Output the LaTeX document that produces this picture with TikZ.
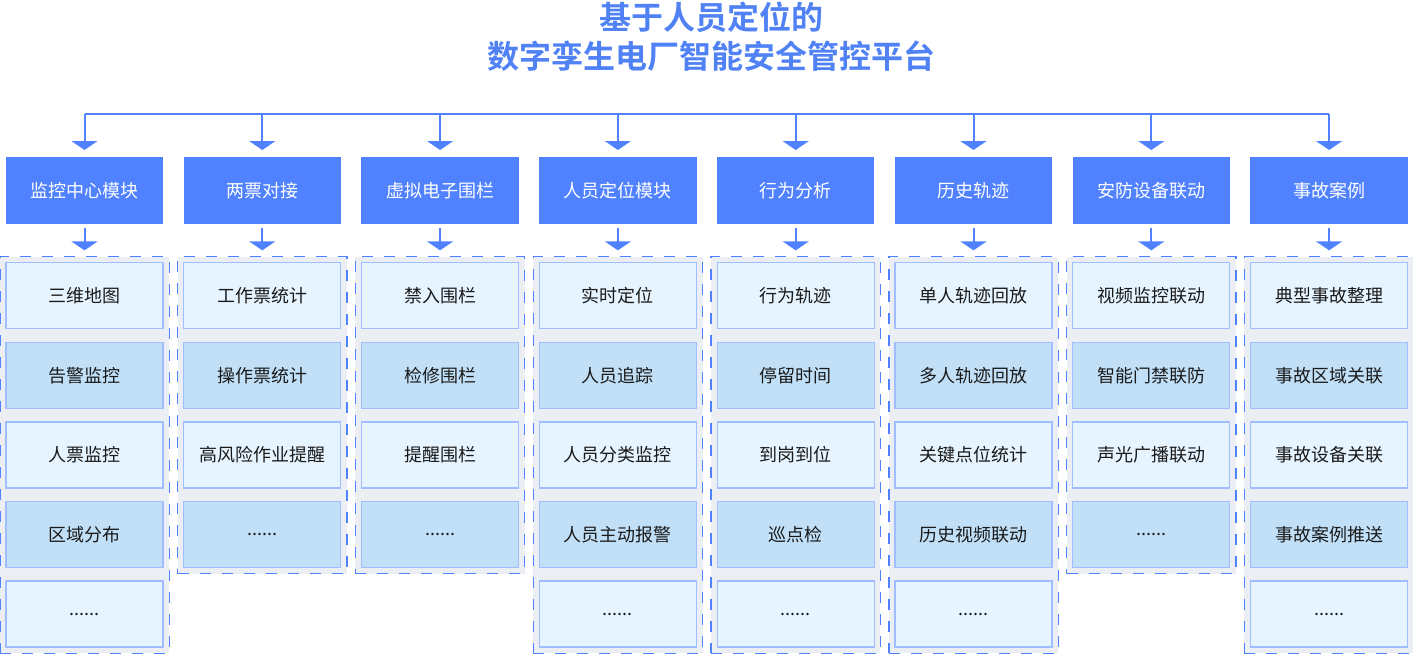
\documentclass[tikz,border=0pt]{standalone}
\usepackage{fontspec}
\setmainfont{Noto Sans CJK SC}[BoldFont={Noto Sans CJK SC Bold}]
\usepackage{xcolor}
\usetikzlibrary{arrows.meta,positioning,fit,backgrounds}
\definecolor{platblue}{RGB}{80,130,255}
\definecolor{titleblue}{RGB}{80,130,245}
\definecolor{itemlight}{RGB}{230,244,255}
\definecolor{itemdark}{RGB}{193,224,248}
\definecolor{itemline}{RGB}{160,190,255}
\definecolor{groupgray}{RGB}{235,239,243}
\definecolor{inktext}{RGB}{26,26,26}

\begin{document}
\begin{tikzpicture}[
    x=1pt,y=1pt,
    node distance=12.3pt,
    module/.style={rectangle,fill=platblue,draw=none,minimum width=157.5pt,
      minimum height=67pt,inner sep=0pt,outer sep=0pt,align=center,text=white,font=\fontsize{18}{20}\selectfont},
    light/.style={rectangle,fill=itemlight,draw=itemline,line width=1.3pt,minimum width=157pt,
      minimum height=66pt,inner sep=0pt,align=center,text=inktext,font=\fontsize{18}{20}\selectfont},
    dark/.style={light,fill=itemdark},
    group/.style={rectangle,fill=groupgray,draw=platblue,line width=1.3pt,
      dash pattern=on 11pt off 11pt,inner sep=5.5pt},
    bus/.style={draw=platblue,line width=2pt},
    arrow/.style={bus,-{Triangle[width=26pt,length=9pt]}}
  ]
    \useasboundingbox (0,0) rectangle (1413,-656);

    \node[text=titleblue,font=\bfseries\fontsize{32}{39}\selectfont,align=center] (title) at (711,-36.5)
      {基于人员定位的\\数字孪生电厂智能安全管控平台};

    % modules
    \node[module] (mon) at (84.5,-190.5) {监控中心模块};
    \node[module,right=20.3pt of mon] (ticket) {两票对接};
    \node[module,right=20.3pt of ticket] (fence) {虚拟电子围栏};
    \node[module,right=20.3pt of fence] (loc) {人员定位模块};
    \node[module,right=20.3pt of loc] (behav) {行为分析};
    \node[module,right=20.3pt of behav] (hist) {历史轨迹};
    \node[module,right=20.3pt of hist] (sec) {安防设备联动};
    \node[module,right=20.3pt of sec] (acc) {事故案例};

    % items
    \node[light,below=38pt of mon] (mon1) {三维地图};
    \node[dark,below=of mon1] (mon2) {告警监控};
    \node[light,below=of mon2] (mon3) {人票监控};
    \node[dark,below=of mon3] (mon4) {区域分布};
    \node[light,below=of mon4] (mon5) {......};

    \node[light,below=38pt of ticket] (ticket1) {工作票统计};
    \node[dark,below=of ticket1] (ticket2) {操作票统计};
    \node[light,below=of ticket2] (ticket3) {高风险作业提醒};
    \node[dark,below=of ticket3] (ticket4) {......};

    \node[light,below=38pt of fence] (fence1) {禁入围栏};
    \node[dark,below=of fence1] (fence2) {检修围栏};
    \node[light,below=of fence2] (fence3) {提醒围栏};
    \node[dark,below=of fence3] (fence4) {......};

    \node[light,below=38pt of loc] (loc1) {实时定位};
    \node[dark,below=of loc1] (loc2) {人员追踪};
    \node[light,below=of loc2] (loc3) {人员分类监控};
    \node[dark,below=of loc3] (loc4) {人员主动报警};
    \node[light,below=of loc4] (loc5) {......};

    \node[light,below=38pt of behav] (behav1) {行为轨迹};
    \node[dark,below=of behav1] (behav2) {停留时间};
    \node[light,below=of behav2] (behav3) {到岗到位};
    \node[dark,below=of behav3] (behav4) {巡点检};
    \node[light,below=of behav4] (behav5) {......};

    \node[light,below=38pt of hist] (hist1) {单人轨迹回放};
    \node[dark,below=of hist1] (hist2) {多人轨迹回放};
    \node[light,below=of hist2] (hist3) {关键点位统计};
    \node[dark,below=of hist3] (hist4) {历史视频联动};
    \node[light,below=of hist4] (hist5) {......};

    \node[light,below=38pt of sec] (sec1) {视频监控联动};
    \node[dark,below=of sec1] (sec2) {智能门禁联防};
    \node[light,below=of sec2] (sec3) {声光广播联动};
    \node[dark,below=of sec3] (sec4) {......};

    \node[light,below=38pt of acc] (acc1) {典型事故整理};
    \node[dark,below=of acc1] (acc2) {事故区域关联};
    \node[light,below=of acc2] (acc3) {事故设备关联};
    \node[dark,below=of acc3] (acc4) {事故案例推送};
    \node[light,below=of acc4] (acc5) {......};

    % dashed groups behind the items
    \begin{scope}[on background layer]
      \node[group,fit=(mon1)(mon5)] (monbox) {};
      \node[group,fit=(ticket1)(ticket4)] (ticketbox) {};
      \node[group,fit=(fence1)(fence4)] (fencebox) {};
      \node[group,fit=(loc1)(loc5)] (locbox) {};
      \node[group,fit=(behav1)(behav5)] (behavbox) {};
      \node[group,fit=(hist1)(hist5)] (histbox) {};
      \node[group,fit=(sec1)(sec4)] (secbox) {};
      \node[group,fit=(acc1)(acc5)] (accbox) {};
    \end{scope}

    % connectors
    \coordinate (trunk) at (0,-114);
    \draw[bus] (mon |- trunk) -- (acc |- trunk);
    \draw[arrow,shorten >=7pt] (mon |- trunk) -- (mon);
    \draw[arrow,shorten >=7pt] (ticket |- trunk) -- (ticket);
    \draw[arrow,shorten >=7pt] (fence |- trunk) -- (fence);
    \draw[arrow,shorten >=7pt] (loc |- trunk) -- (loc);
    \draw[arrow,shorten >=7pt] (behav |- trunk) -- (behav);
    \draw[arrow,shorten >=7pt] (hist |- trunk) -- (hist);
    \draw[arrow,shorten >=7pt] (sec |- trunk) -- (sec);
    \draw[arrow,shorten >=7pt] (acc |- trunk) -- (acc);

    \draw[arrow,shorten <=4pt,shorten >=5.5pt] (mon) -- (monbox);
    \draw[arrow,shorten <=4pt,shorten >=5.5pt] (ticket) -- (ticketbox);
    \draw[arrow,shorten <=4pt,shorten >=5.5pt] (fence) -- (fencebox);
    \draw[arrow,shorten <=4pt,shorten >=5.5pt] (loc) -- (locbox);
    \draw[arrow,shorten <=4pt,shorten >=5.5pt] (behav) -- (behavbox);
    \draw[arrow,shorten <=4pt,shorten >=5.5pt] (hist) -- (histbox);
    \draw[arrow,shorten <=4pt,shorten >=5.5pt] (sec) -- (secbox);
    \draw[arrow,shorten <=4pt,shorten >=5.5pt] (acc) -- (accbox);
  \end{tikzpicture}
\end{document}
